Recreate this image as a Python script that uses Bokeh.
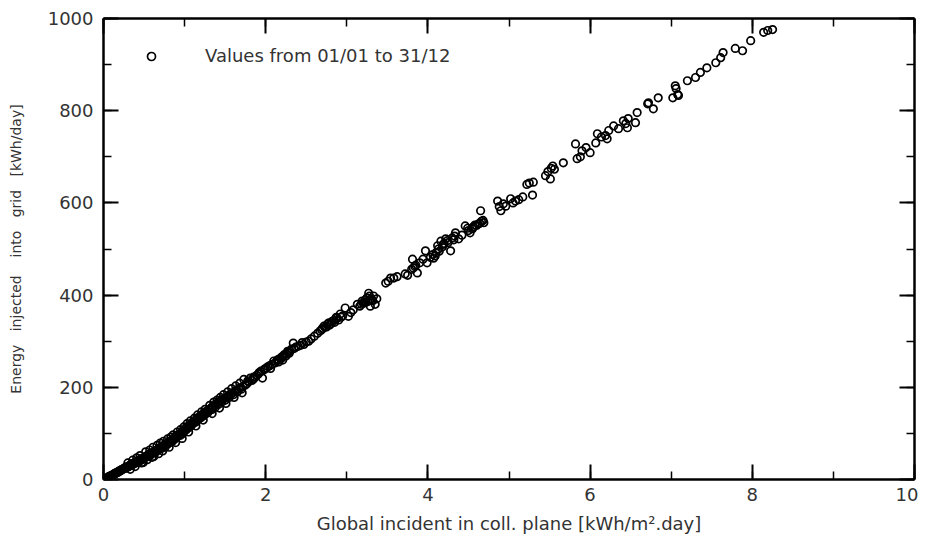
from bokeh.plotting import figure
from bokeh.models import (Range1d, LinearAxis, SingleIntervalTicker, Legend,
                          LegendItem, ColumnDataSource)
from bokeh.embed import file_html
from bokeh.resources import INLINE

# ---- data: daily global incident irradiation vs energy injected into grid ----
low_x = [0.01, 0.02, 0.03, 0.04, 0.05, 0.06, 0.07, 0.08, 0.09, 0.10, 0.11, 0.12, 0.13,
         0.14, 0.15, 0.16, 0.17, 0.18, 0.19, 0.20, 0.21, 0.22, 0.23, 0.24, 0.25, 0.26,
         0.27, 0.28, 0.29, 0.30, 0.31, 0.32, 0.33, 0.34, 0.35, 0.36, 0.37, 0.38, 0.39,
         0.40, 0.41, 0.42, 0.43, 0.44, 0.45, 0.46, 0.47, 0.48, 0.49, 0.50,
         0.04, 0.07, 0.12, 0.15, 0.18, 0.22, 0.27, 0.31, 0.35, 0.38, 0.42, 0.46, 0.49,
         0.51, 0.52, 0.53, 0.54, 0.55, 0.56, 0.57, 0.58, 0.59, 0.60, 0.61, 0.62, 0.63,
         0.64, 0.65, 0.66, 0.67, 0.68, 0.69, 0.70, 0.71, 0.72, 0.73, 0.74, 0.75, 0.76,
         0.77, 0.78, 0.79, 0.80, 0.81, 0.82, 0.83, 0.84, 0.85, 0.86, 0.87, 0.88, 0.89,
         0.90, 0.91, 0.92, 0.93, 0.94, 0.95, 0.96, 0.97, 0.98, 0.99,
         0.55, 0.64, 0.72, 0.80, 0.88, 0.95]
low_y = [0, 1, 2, 3, 4, 5, 5, 7, 8, 9, 9, 11, 12,
         13, 13, 15, 15, 17, 18, 18, 20, 20, 22, 22, 24, 25,
         24, 26, 28, 27, 29, 30, 30, 33, 32, 34, 35, 34, 37,
         38, 37, 40, 39, 42, 43, 41, 45, 44, 37, 47,
         2, 7, 10, 14, 16, 21, 26, 28, 34, 36, 38, 44, 46,
         48, 50, 49, 52, 53, 51, 55, 56, 54, 58, 59, 50, 61,
         62, 60, 64, 65, 67, 66, 69, 70, 68, 72, 73, 75, 70,
         76, 78, 77, 80, 82, 81, 84, 85, 83, 88, 89, 91, 90,
         93, 95, 94, 97, 98, 96, 101, 102, 100, 104,
         50, 60, 71, 78, 88, 100]

spread_x = [0.30, 0.36, 0.41, 0.45, 0.52, 0.57, 0.61, 0.66, 0.70, 0.74, 0.79, 0.83,
            0.86, 0.91, 0.95, 0.99, 1.03, 1.07, 1.12, 1.16, 1.21, 1.25, 1.31, 1.36,
            1.40, 1.44, 1.48, 1.53, 1.58, 1.63, 1.68,
            0.33, 0.39, 0.47, 0.54, 0.60, 0.68, 0.73, 0.81, 0.89, 0.97, 1.05, 1.14,
            1.23, 1.34, 1.43, 1.51, 1.61, 1.71]
spread_y = [36, 42, 47, 52, 60, 64, 70, 74, 79, 83, 88, 92,
            97, 103, 108, 114, 121, 127, 133, 140, 147, 152, 161, 168,
            172, 178, 184, 190, 197, 203, 209,
            22, 28, 36, 43, 48, 56, 62, 70, 80, 89, 103, 116,
            129, 143, 155, 165, 178, 188]

mid_x = [1.00, 1.01, 1.02, 1.03, 1.04, 1.05, 1.06, 1.07, 1.08, 1.09, 1.10, 1.11, 1.12,
         1.13, 1.14, 1.15, 1.16, 1.17, 1.18, 1.19, 1.20, 1.21, 1.22, 1.23, 1.24, 1.25,
         1.26, 1.27, 1.28, 1.29, 1.30, 1.32, 1.33, 1.34, 1.35, 1.37, 1.38, 1.39, 1.41,
         1.42, 1.43, 1.45, 1.46, 1.47, 1.49, 1.50, 1.52, 1.54, 1.55, 1.57, 1.59, 1.60,
         1.62, 1.64, 1.65, 1.67, 1.69, 1.70, 1.72, 1.73, 1.75, 1.77, 1.79, 1.81, 1.83,
         1.85, 1.87, 1.89, 1.91, 1.94, 1.96, 1.98,
         2.01, 2.03, 2.06, 2.08, 2.10, 2.12, 2.15, 2.18, 2.20, 2.23, 2.25, 2.27, 2.29,
         2.32, 2.34, 2.37, 2.40, 2.43, 2.45, 2.47, 2.50, 2.53, 2.56, 2.60, 2.64, 2.67,
         2.70, 2.73, 2.76, 2.79, 2.82, 2.85, 2.88, 2.90, 2.92, 2.95, 2.98,
         2.14, 2.19, 2.22, 2.26, 2.30, 2.21, 2.16, 2.28, 2.35, 2.05, 1.92, 1.99, 1.85,
         1.78, 2.72, 2.78, 2.84, 2.87, 2.93, 2.80, 2.75, 2.69]
mid_y = [106, 110, 108, 113, 115, 112, 117, 119, 116, 121, 124, 122, 127,
         128, 125, 131, 133, 130, 135, 137, 134, 139, 141, 138, 143, 145,
         142, 147, 149, 146, 151, 153, 156, 152, 158, 161, 157, 164, 166,
         163, 169, 171, 168, 174, 176, 172, 179, 182, 178, 185, 188, 184,
         191, 194, 190, 197, 199, 196, 202, 217, 205, 208, 212, 220, 215,
         218, 222, 226, 229, 235, 220, 238,
         242, 245, 241, 250, 257, 253, 260, 263, 266, 271, 268, 278, 274,
         283, 296, 287, 289, 291, 297, 293, 298, 300, 305, 311, 317, 322,
         328, 330, 337, 335, 343, 341, 350, 346, 359, 355, 372,
         258, 262, 268, 272, 279, 259, 255, 276, 284, 247, 232, 240, 222,
         214, 333, 340, 345, 352, 352, 338, 331, 325]

high_x = [3.02, 3.05, 3.08, 3.13, 3.16, 3.19, 3.22, 3.25, 3.27, 3.29, 3.31, 3.33, 3.35,
          3.37, 3.48, 3.51, 3.54, 3.58, 3.62, 3.72, 3.75, 3.81, 3.82, 3.85, 3.87, 3.90,
          3.94, 3.97, 3.99, 4.03, 4.06, 4.09, 4.12, 4.14, 4.16, 4.19, 4.22, 4.25, 4.28,
          4.30, 4.32, 4.34, 4.38, 4.42, 4.46, 4.49, 4.52, 4.56, 4.58, 4.62, 4.65, 4.66,
          4.69,
          3.20, 3.23, 3.26, 3.30, 3.32, 3.18, 3.28,
          4.10, 4.13, 4.18, 4.20, 4.24, 4.07, 3.84, 3.80, 4.33, 4.50, 4.55, 4.60, 4.64,
          4.68]
high_y = [354, 362, 368, 380, 376, 387, 383, 394, 404, 376, 390, 398, 380,
          392, 426, 430, 437, 437, 440, 446, 443, 478, 459, 465, 448, 470,
          478, 496, 470, 482, 488, 485, 507, 495, 517, 510, 522, 514, 496,
          524, 520, 535, 522, 530, 550, 545, 535, 548, 552, 554, 583, 560,
          557,
          383, 390, 386, 392, 388, 380, 398,
          492, 500, 505, 512, 518, 480, 462, 456, 528, 540, 544, 551, 556,
          562]

top_x = [4.86, 4.88, 4.90, 4.93, 4.96, 5.02, 5.05, 5.08, 5.12, 5.17, 5.22, 5.25, 5.29,
         5.30, 5.45, 5.48, 5.51, 5.52, 5.54, 5.56, 5.67, 5.82, 5.84, 5.88, 5.90, 5.95,
         6.00, 6.07, 6.09, 6.14, 6.19, 6.21, 6.23, 6.29, 6.35, 6.41, 6.44, 6.46, 6.47,
         6.56, 6.58, 6.71, 6.72, 6.78, 6.84, 7.02, 7.05, 7.06, 7.08, 7.09, 7.20, 7.30,
         7.36, 7.44, 7.55, 7.61, 7.64, 7.79, 7.88, 7.98, 8.14, 8.19, 8.25]
top_y = [604, 592, 583, 598, 593, 609, 600, 604, 607, 613, 640, 643, 617,
         645, 659, 668, 652, 675, 680, 673, 687, 728, 696, 700, 713, 720,
         709, 730, 750, 743, 746, 739, 757, 767, 761, 778, 772, 763, 783,
         774, 796, 815, 817, 804, 828, 828, 854, 848, 835, 833, 865, 872,
         883, 893, 904, 915, 926, 935, 930, 952, 970, 974, 976]

x_ticks_interval = 2
y_ticks_interval = 200
legend_label = "Values from 01/01 to 31/12"
x_title = "Global incident in coll. plane [kWh/m\u00b2.day]"
y_title = ("Energy\u00a0\u00a0\u00a0injected\u00a0\u00a0\u00a0\u00a0into\u00a0\u00a0\u00a0"
           "grid\u00a0\u00a0\u00a0[kWh/day]")

src = ColumnDataSource(dict(x=low_x + spread_x + mid_x + high_x + top_x,
                            y=low_y + spread_y + mid_y + high_y + top_y))

FONT = "DejaVu Sans"
TXT = "#333333"

p = figure(width=918, height=540, output_backend="svg", toolbar_location=None,
           x_range=Range1d(0, 10), y_range=Range1d(0, 1000),
           min_border_left=103, min_border_right=4, min_border_top=18,
           min_border_bottom=61)
p.grid.visible = False
p.outline_line_color = None
p.background_fill_color = "white"
p.border_fill_color = "white"


def style(ax, labels=True):
    ax.axis_line_color = "black"
    ax.axis_line_width = 2.5
    ax.major_tick_in = 15
    ax.major_tick_out = 0
    ax.minor_tick_in = 8
    ax.minor_tick_out = 0
    ax.major_tick_line_color = "black"
    ax.minor_tick_line_color = "black"
    ax.major_tick_line_width = 2
    ax.minor_tick_line_width = 1.5
    ax.major_label_text_font = FONT
    if labels:
        ax.major_label_text_font_size = "18px"
        ax.major_label_text_color = TXT
    else:
        ax.major_label_text_font_size = "1px"
        ax.major_label_text_color = None
        ax.major_label_standoff = 0


xt = SingleIntervalTicker(interval=x_ticks_interval, num_minor_ticks=2)
yt = SingleIntervalTicker(interval=y_ticks_interval, num_minor_ticks=2)

xa = p.xaxis[0]
ya = p.yaxis[0]
xa.ticker = xt
ya.ticker = yt
style(xa)
style(ya)
xa.major_label_standoff = 8
ya.major_label_standoff = 10

xa.axis_label = x_title
xa.axis_label_text_font = FONT
xa.axis_label_text_font_size = "18px"
xa.axis_label_text_font_style = "normal"
xa.axis_label_text_color = TXT
xa.axis_label_standoff = 9

ya.axis_label = y_title
ya.axis_label_text_font = FONT
ya.axis_label_text_font_size = "14px"
ya.axis_label_text_font_style = "normal"
ya.axis_label_text_color = TXT
ya.axis_label_standoff = 21

top_ax = LinearAxis(ticker=SingleIntervalTicker(interval=x_ticks_interval, num_minor_ticks=2))
right_ax = LinearAxis(ticker=SingleIntervalTicker(interval=y_ticks_interval, num_minor_ticks=2))
style(top_ax, labels=False)
style(right_ax, labels=False)
p.add_layout(top_ax, "above")
p.add_layout(right_ax, "right")

r = p.scatter(x="x", y="y", source=src, marker="circle", size=7.5,
              fill_color=None, line_color="black", line_width=1.7)

leg = Legend(items=[LegendItem(label=legend_label, renderers=[r])],
             location=(38, 413))
leg.border_line_color = None
leg.background_fill_alpha = 0
leg.padding = 0
leg.margin = 0
leg.glyph_width = 20
leg.glyph_height = 20
leg.label_height = 20
leg.label_standoff = 44
leg.label_text_font = FONT
leg.label_text_font_size = "18px"
leg.label_text_color = TXT
p.add_layout(leg)

open("out.html", "w").write(file_html(p, INLINE))
